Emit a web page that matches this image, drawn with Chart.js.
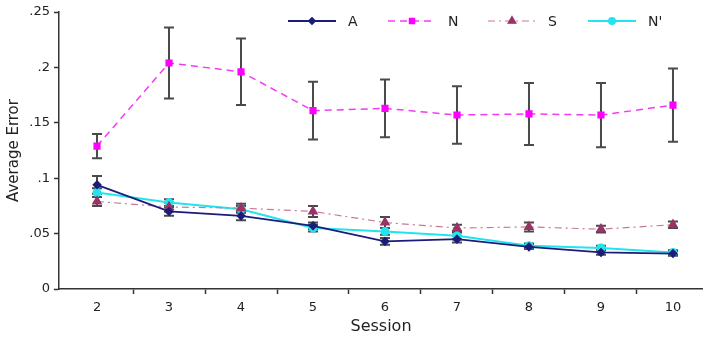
<!DOCTYPE html>
<html>
<head>
<meta charset="utf-8">
<script src="https://cdn.jsdelivr.net/npm/chart.js@4"></script>
<style>
  html, body { margin: 0; padding: 0; background: #fff; }
  canvas { display: block; }
</style>
</head>
<body>
<canvas id="chart" width="703" height="339"></canvas>
<script>
// data
const sessions = [2, 3, 4, 5, 6, 7, 8, 9, 10];
const seriesA = [0.094, 0.070, 0.066, 0.057, 0.043, 0.045, 0.038, 0.033, 0.032];
const errA = [0.008, 0.004, 0.004, 0.003, 0.003, 0.003, 0.002, 0.002, 0.002];
const seriesN = [0.129, 0.204, 0.196, 0.161, 0.163, 0.157, 0.158, 0.157, 0.166];
const errN = [0.011, 0.032, 0.030, 0.026, 0.026, 0.026, 0.028, 0.029, 0.033];
const seriesS = [0.079, 0.074, 0.073, 0.070, 0.060, 0.055, 0.056, 0.054, 0.058];
const errS = [0.004, 0.004, 0.004, 0.005, 0.005, 0.003, 0.004, 0.003, 0.003];
const seriesN2 = [0.087, 0.078, 0.072, 0.055, 0.052, 0.048, 0.039, 0.037, 0.033];
const errN2 = [0.004, 0.003, 0.003, 0.003, 0.003, 0.003, 0.002, 0.002, 0.002];
const yTicks = [0, 0.05, 0.1, 0.15, 0.2, 0.25];

const FONT = "'DejaVu Sans', Verdana, sans-serif";

function pts(vals) {
    return vals.map((v, i) => ({ x: sessions[i], y: v }));
}

// error bars, drawn under the markers
const errorBars = {
    id: 'errorBars',
    beforeDatasetsDraw(chart) {
        const ctx = chart.ctx;
        const xs = chart.scales.x, ys = chart.scales.y;
        ctx.save();
        ctx.strokeStyle = '#4a4a4a';
        ctx.lineWidth = 2;
        chart.data.datasets.forEach(ds => {
            ds.data.forEach((p, i) => {
                const e = ds.errors[i];
                const x = xs.getPixelForValue(p.x);
                const y1 = ys.getPixelForValue(p.y + e);
                const y2 = ys.getPixelForValue(p.y - e);
                ctx.beginPath();
                ctx.moveTo(x, y1); ctx.lineTo(x, y2);
                ctx.moveTo(x - 5, y1); ctx.lineTo(x + 5, y1);
                ctx.moveTo(x - 5, y2); ctx.lineTo(x + 5, y2);
                ctx.stroke();
            });
        });
        ctx.restore();
    }
};

// legend with line samples, like the original
const lineLegend = {
    id: 'lineLegend',
    afterDraw(chart) {
        const ctx = chart.ctx;
        ctx.save();
        ctx.font = '14px ' + FONT;
        ctx.textBaseline = 'middle';
        chart.data.datasets.forEach((ds, i) => {
            const x0 = 288 + i * 100, y = 21;
            ctx.strokeStyle = ds.borderColor;
            ctx.lineWidth = ds.borderWidth;
            ctx.setLineDash(ds.borderDash || []);
            ctx.beginPath();
            ctx.moveTo(x0, y); ctx.lineTo(x0 + 48, y);
            ctx.stroke();
            ctx.setLineDash([]);
            ctx.fillStyle = ds.pointBackgroundColor;
            ctx.strokeStyle = ds.pointBorderColor;
            Chart.helpers.drawPoint(ctx, {
                pointStyle: ds.pointStyle, radius: ds.pointRadius - 0.5,
                borderWidth: 1, rotation: 0
            }, x0 + 24, y);
            ctx.fillStyle = '#222';
            ctx.fillText(ds.label, x0 + 60, y + 1);
        });
        ctx.restore();
    }
};

new Chart(document.getElementById('chart'), {
    type: 'line',
    data: {
        datasets: [{
            label: 'A',
            data: pts(seriesA), errors: errA,
            borderColor: '#1c1c7a', borderWidth: 1.8,
            pointStyle: 'rectRot', pointRadius: 3.5,
            pointBackgroundColor: '#1c1c7a', pointBorderColor: '#1c1c7a'
        }, {
            label: 'N',
            data: pts(seriesN), errors: errN,
            borderColor: '#f23cf2', borderWidth: 1.5, borderDash: [7, 5],
            pointStyle: 'rect', pointRadius: 4,
            pointBackgroundColor: '#ff00ff', pointBorderColor: '#ff00ff'
        }, {
            label: 'S',
            data: pts(seriesS), errors: errS,
            borderColor: '#c77a98', borderWidth: 1.2, borderDash: [7, 4, 2, 4],
            pointStyle: 'triangle', pointRadius: 5,
            pointBackgroundColor: '#993366', pointBorderColor: '#993366'
        }, {
            label: "N'",
            data: pts(seriesN2), errors: errN2,
            borderColor: '#22e4ee', borderWidth: 2,
            pointStyle: 'circle', pointRadius: 3.5,
            pointBackgroundColor: '#22e4ee', pointBorderColor: '#22e4ee'
        }]
    },
    options: {
        responsive: false,
        animation: false,
        layout: { autoPadding: false, padding: { top: 12, left: 0, right: 0, bottom: 0 } },
        plugins: { legend: { display: false }, tooltip: { enabled: false } },
        scales: {
            x: {
                type: 'linear',
                min: 1.472, max: 10.417,
                afterBuildTicks(scale) {
                    const t = [];
                    sessions.forEach(s => {
                        t.push({ value: s });
                        if (s < 10) t.push({ value: s + 0.5 });
                    });
                    scale.ticks = t;
                },
                afterFit(scale) {
                    scale.height = 50;
                    scale.paddingLeft = 0;
                    scale.paddingRight = 0;
                },
                grid: {
                    drawOnChartArea: false, tickLength: 5,
                    tickColor: c => (c.tick && Number.isInteger(c.tick.value)) ? 'rgba(0,0,0,0)' : '#333',
                    tickWidth: 1.5
                },
                border: { color: '#333', width: 1.5 },
                ticks: {
                    autoSkip: false, maxRotation: 0, padding: 6,
                    color: '#222', font: { family: FONT, size: 13 },
                    callback: v => Number.isInteger(v) ? String(v) : ''
                },
                title: {
                    display: true, text: 'Session', color: '#222',
                    font: { family: FONT, size: 16 }, padding: { top: 0, bottom: 3 }
                }
            },
            y: {
                min: 0, max: 0.25,
                afterBuildTicks(scale) { scale.ticks = yTicks.map(v => ({ value: v })); },
                afterFit(scale) { scale.width = 59; },
                grid: { drawOnChartArea: false, tickLength: 5, tickColor: '#333', tickWidth: 1.5 },
                border: { color: '#333', width: 1.5 },
                ticks: {
                    padding: 4, color: '#222', font: { family: FONT, size: 13 },
                    callback: v => v === 0 ? '0' : Number(v.toFixed(2)).toString().replace(/^0/, '')
                },
                title: {
                    display: true, text: 'Average Error', color: '#222',
                    font: { family: FONT, size: 15 }, padding: { top: 5, bottom: 4 }
                }
            }
        }
    },
    plugins: [errorBars, lineLegend]
});
</script>
</body>
</html>
